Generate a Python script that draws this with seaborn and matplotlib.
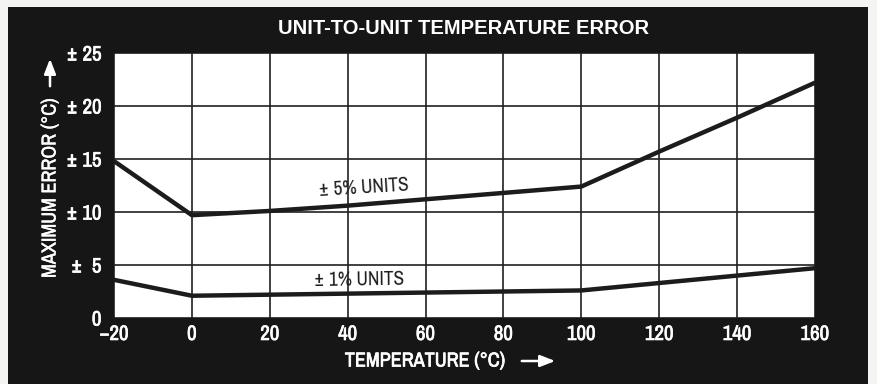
import matplotlib
matplotlib.use("Agg")
import matplotlib.pyplot as plt
from matplotlib.patches import Rectangle, FancyArrowPatch
import matplotlib.patheffects as pe
import pandas as pd
import seaborn as sns

# Temperature (°C) and maximum unit-to-unit error (±°C)
temps = [-20, 0, 20, 40, 60, 80, 100, 120, 140, 160]
err_5pct = [14.8, 9.7, 10.1, 10.6, 11.2, 11.8, 12.4, 15.7, 18.9, 22.2]
err_1pct = [3.6, 2.1, 2.2, 2.3, 2.4, 2.5, 2.6, 3.3, 4.0, 4.7]

x_ticks = [-20, 0, 20, 40, 60, 80, 100, 120, 140, 160]
x_tick_labels = ["\u221220", "0", "20", "40", "60", "80", "100", "120", "140", "160"]
y_ticks = [0, 5, 10, 15, 20, 25]
y_tick_labels = ["0", "\u00b1  5", "\u00b1 10", "\u00b1 15", "\u00b1 20", "\u00b1 25"]

df = pd.DataFrame({
    "temp": temps * 2,
    "error": err_5pct + err_1pct,
    "series": ["5%"] * len(temps) + ["1%"] * len(temps),
})

sns.set_theme(style="white")
NARROW = ["Archivo Narrow", "DejaVu Sans"]
plt.rcParams["font.family"] = NARROW

DARK = "#161616"
INK = "#1c1c1c"
# slightly thickens the narrow white lettering
medium = [pe.withStroke(linewidth=0.5, foreground="white")]

fig = plt.figure(figsize=(8.78, 3.84), dpi=100)
fig.patch.set_facecolor("#f4f4f2")
fig.add_artist(Rectangle((8 / 878, 0), 860 / 878, 1 - 7 / 384,
                         transform=fig.transFigure, facecolor=DARK,
                         edgecolor="none", zorder=0))

ax = fig.add_axes([114 / 878, 1 - 318 / 384, 701 / 878, 265 / 384])
ax.set_facecolor("white")

sns.lineplot(data=df, x="temp", y="error", hue="series",
             palette={"5%": INK, "1%": INK},
             linewidth=3.2, legend=False, ax=ax, zorder=3)

ax.set_xlim(-20, 160)
ax.set_ylim(0, 25)
ax.set_xticks(x_ticks)
ax.set_xticklabels(x_tick_labels)
ax.set_yticks(y_ticks)
ax.set_yticklabels(y_tick_labels)
ax.grid(True, color="#202020", linewidth=1.2, zorder=1)
ax.set_axisbelow(True)
for s in ax.spines.values():
    s.set_visible(False)
ax.tick_params(axis="both", length=0, colors="white", labelsize=15)
ax.tick_params(axis="x", pad=5)
ax.tick_params(axis="y", pad=9)
for lab in ax.get_xticklabels() + ax.get_yticklabels():
    lab.set_path_effects(medium)
ax.set_xlabel("")
ax.set_ylabel("")

# Series labels
ax.text(44, 12.3, "\u00b1 5% UNITS", fontsize=14, color=INK,
        rotation=3.5, ha="center", va="center", zorder=4)
ax.text(43, 3.6, "\u00b1 1% UNITS", fontsize=14, color=INK,
        rotation=0.8, ha="center", va="center", zorder=4)

# Title and axis labels
fig.text(464 / 878, 1 - 29 / 384, "UNIT-TO-UNIT TEMPERATURE ERROR",
         color="white", fontsize=14.5, fontweight="bold", ha="center",
         va="center", family=["Liberation Sans", "DejaVu Sans"])
fig.text(425 / 878, 1 - 361 / 384, "TEMPERATURE (\u00b0C)", color="white",
         fontsize=14.5, ha="center", va="center", path_effects=medium)
fig.add_artist(FancyArrowPatch(
    (519 / 878, 1 - 361 / 384), (558 / 878, 1 - 361 / 384),
    transform=fig.transFigure, arrowstyle="-|>,head_length=9,head_width=3.5",
    color="white", linewidth=1.8, mutation_scale=1))
fig.text(50 / 878, 1 - 188 / 384, "MAXIMUM ERROR (\u00b0C)", color="white",
         fontsize=14.5, rotation=90, ha="center", va="center",
         path_effects=[pe.withStroke(linewidth=0.3, foreground="white")])
fig.add_artist(FancyArrowPatch(
    (50 / 878, 1 - 89 / 384), (50 / 878, 1 - 56 / 384),
    transform=fig.transFigure, arrowstyle="-|>,head_length=9,head_width=3.5",
    color="white", linewidth=1.8, mutation_scale=1))

fig.savefig("out.png", dpi=100, facecolor=fig.get_facecolor())
